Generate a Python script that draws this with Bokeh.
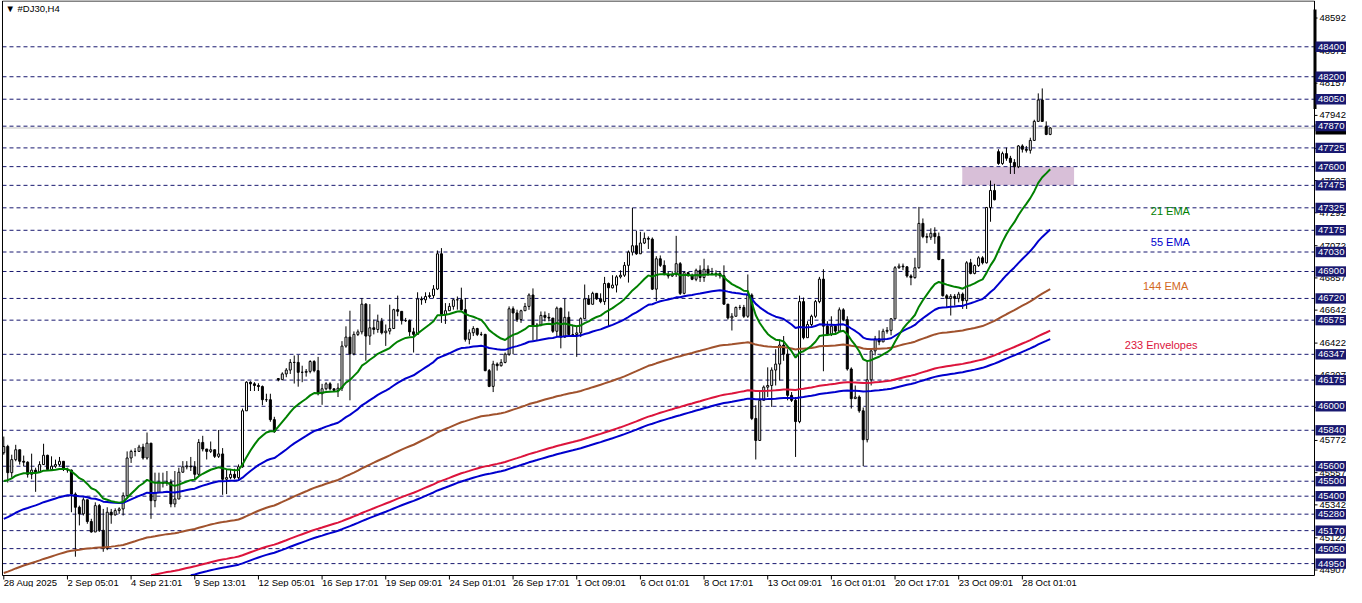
from bokeh.plotting import figure
from bokeh.models import Range1d
from bokeh.embed import file_html
from bokeh.resources import INLINE
from bokeh.core.properties import value

# ---------------- data ----------------
SYMBOL = "#DJ30,H4"
FIRST_OPEN = 45690
GAP_OPENS = {69: 46185, 250: 47700, 262: 47869}

CLOSES = [
    45732, 45557, 45644, 45710, 45633, 45627, 45546, 45574, 45561, 45611,
    45673, 45578, 45600, 45611, 45633, 45578, 45574, 45414, 45326, 45282,
    45376, 45231, 45161, 45337, 45172, 45051, 45293, 45275, 45304, 45315,
    45403, 45655, 45699, 45699, 45728, 45655, 45754, 45370, 45425, 45491,
    45486, 45495, 45348, 45381, 45560, 45596, 45601, 45596, 45546, 45759,
    45715, 45699, 45710, 45666, 45682, 45513, 45524, 45546, 45524, 45596,
    45970, 46161, 46150, 46139, 46132, 46044, 46044, 45911, 45830, 46178,
    46216, 46242, 46293, 46293, 46227, 46227, 46233, 46299, 46238, 46084,
    46117, 46150, 46117, 46106, 46121, 46402, 46462, 46350, 46480, 46497,
    46682, 46469, 46524, 46513, 46568, 46491, 46502, 46519, 46645, 46634,
    46572, 46572, 46497, 46480, 46717, 46711, 46733, 46739, 46783, 47018,
    46612, 46638, 46667, 46711, 46711, 46645, 46447, 46491, 46519, 46480,
    46480, 46238, 46133, 46282, 46271, 46293, 46348, 46651, 46623, 46579,
    46638, 46667, 46743, 46541, 46541, 46607, 46594, 46589, 46501, 46655,
    46462, 46594, 46479, 46479, 46490, 46585, 46717, 46681, 46754, 46717,
    46699, 46820, 46791, 46809, 46864, 46875, 46941, 47029, 47072, 47018,
    47090, 47121, 47116, 46782, 46985, 46941, 46879, 46870, 46879, 46952,
    46754, 46892, 46875, 46848, 46908, 46860, 46915, 46886, 46886, 46886,
    46871, 46682, 46590, 46601, 46660, 46660, 46601, 46743, 45919, 45772,
    46040, 46128, 46139, 46242, 46282, 46409, 46348, 46073, 46040, 45898,
    46699, 46458, 46546, 46601, 46699, 46849, 46535, 46480, 46535, 46502,
    46644, 46579, 46249, 46051, 46062, 45970, 45777, 46177, 46370, 46450,
    46430, 46501, 46507, 46584, 46925, 46936, 46931, 46870, 46859, 46925,
    47221, 47133, 47129, 47155, 47133, 46980, 46738, 46720, 46734, 46720,
    46749, 46705, 46958, 46887, 46940, 46991, 46958, 47327, 47441, 47379,
    47621, 47687, 47656, 47628, 47599, 47738, 47716, 47709, 47775, 47902,
    48045, 47902, 47815, 47858,
]
HIGHS = [
    45798, 45743, 45677, 45743, 45671, 45671, 45633, 45684, 45590, 45633,
    45750, 45677, 45666, 45644, 45662, 45622, 45590, 45578, 45425, 45337,
    45392, 45337, 45249, 45359, 45348, 45315, 45326, 45315, 45319, 45326,
    45425, 45699, 45710, 45721, 45743, 45750, 45825, 45754, 45557, 45557,
    45557, 45568, 45513, 45568, 45590, 45634, 45634, 45662, 45634, 45781,
    45803, 45710, 45765, 45710, 45842, 45721, 45579, 45579, 45583, 45612,
    45985, 46167, 46167, 46161, 46154, 46139, 46084, 46084, 45930, 46189,
    46227, 46255, 46315, 46339, 46343, 46271, 46249, 46308, 46308, 46330,
    46150, 46161, 46161, 46117, 46154, 46435, 46534, 46638, 46500, 46513,
    46722, 46689, 46682, 46579, 46612, 46590, 46546, 46678, 46651, 46739,
    46629, 46590, 46579, 46524, 46761, 46733, 46761, 46761, 46809, 47040,
    47056, 46689, 46689, 46717, 46733, 46792, 46722, 46513, 46535, 46524,
    46497, 46484, 46249, 46304, 46293, 46315, 46359, 46667, 46667, 46645,
    46645, 46690, 46754, 46787, 46556, 46633, 46633, 46622, 46589, 46666,
    46659, 46717, 46633, 46545, 46534, 46594, 46813, 46743, 46765, 46747,
    46754, 46864, 46826, 46875, 46875, 46908, 46963, 47040, 47325, 47171,
    47165, 47160, 47134, 47127, 47002, 47007, 46974, 46897, 46901, 47138,
    46963, 46901, 46897, 46886, 46919, 46941, 46985, 46941, 46924, 46908,
    46902, 46941, 46682, 46622, 46666, 46677, 46677, 46880, 46754, 46007,
    46106, 46139, 46260, 46260, 46381, 46447, 46469, 46381, 46095, 46062,
    46739, 46726, 46568, 46612, 46710, 46864, 46915, 46568, 46601, 46535,
    46660, 46655, 46601, 46260, 46139, 46073, 45992, 46304, 46381, 46470,
    46507, 46518, 46529, 46589, 46936, 46953, 46953, 46936, 46881, 46991,
    47331, 47254, 47155, 47188, 47195, 47160, 46984, 46749, 46749, 46749,
    46764, 46760, 46969, 46984, 46947, 47002, 47002, 47331, 47507, 47485,
    47716, 47700, 47727, 47672, 47650, 47744, 47749, 47738, 47793, 47913,
    48089, 48122, 47902, 47863,
]
LOWS = [
    45677, 45491, 45524, 45633, 45611, 45600, 45524, 45513, 45429, 45557,
    45611, 45568, 45578, 45589, 45600, 45568, 45557, 45293, 44996, 45205,
    45271, 45216, 45157, 45205, 45161, 45029, 45040, 45216, 45271, 45282,
    45271, 45392, 45622, 45666, 45699, 45644, 45644, 45249, 45326, 45469,
    45458, 45469, 45326, 45326, 45513, 45557, 45579, 45568, 45513, 45535,
    45699, 45645, 45688, 45655, 45655, 45409, 45414, 45513, 45513, 45513,
    45590, 45970, 46102, 46102, 46102, 46007, 46029, 45897, 45823, 46167,
    46194, 46194, 46216, 46152, 46131, 46161, 46198, 46220, 46227, 46073,
    46010, 46106, 46106, 46095, 46062, 46102, 46391, 46040, 46340, 46469,
    46480, 46304, 46410, 46480, 46491, 46480, 46403, 46480, 46519, 46601,
    46546, 46563, 46469, 46359, 46480, 46678, 46689, 46722, 46722, 46776,
    46557, 46550, 46645, 46645, 46645, 46638, 46432, 46414, 46469, 46469,
    46469, 46234, 46128, 46095, 46238, 46265, 46287, 46337, 46348, 46563,
    46557, 46640, 46644, 46440, 46440, 46534, 46567, 46567, 46490, 46468,
    46387, 46457, 46468, 46468, 46330, 46462, 46585, 46677, 46688, 46710,
    46688, 46677, 46534, 46787, 46760, 46853, 46864, 46826, 47007, 47011,
    47055, 47083, 47050, 46776, 46703, 46930, 46875, 46853, 46864, 46864,
    46743, 46747, 46864, 46842, 46835, 46830, 46831, 46871, 46875, 46864,
    46853, 46677, 46579, 46506, 46612, 46644, 46590, 46590, 45908, 45645,
    45957, 46095, 46062, 45996, 46139, 46172, 46304, 46040, 46029, 45662,
    45887, 46447, 46458, 46535, 46590, 46688, 46234, 46469, 46469, 46480,
    46497, 46568, 46238, 45985, 46051, 45957, 45601, 45759, 46139, 46340,
    46408, 46430, 46485, 46474, 46580, 46918, 46909, 46859, 46808, 46852,
    46918, 47122, 47089, 47111, 47085, 46975, 46733, 46661, 46606, 46672,
    46694, 46650, 46650, 46881, 46881, 46931, 46947, 46953, 47232, 47375,
    47612, 47612, 47639, 47551, 47551, 47590, 47694, 47694, 47687, 47771,
    47898, 47898, 47810, 47810,
]

# indicator values at the first visible bar
EMA21_START = 45502
EMA55_START = 45249
EMA144_START = 44887
ENV233_START = 44605
ENV_DEVIATION = 0.0006

# horizontal levels drawn on the chart (dashed lines + highlighted price labels)
LEVELS = [48400, 48200, 48050, 47870, 47725, 47600, 47475, 47325, 47175, 47030,
          46900, 46720, 46575, 46347, 46175, 46000, 45840, 45600, 45500, 45400,
          45280, 45170, 45050, 44950]
BID = 47858

# price scale ticks
Y_TICKS = [48592, 48372, 48157, 47942, 47722, 47507, 47292, 47072, 46857, 46642,
           46422, 46207, 45992, 45772, 45557, 45342, 45122, 44907]

# time scale ticks
X_TICK_BARS = [0, 16, 32, 48, 64, 80, 96, 112, 128, 144, 160, 176, 192, 208, 224, 240, 256]
X_TICK_LABELS = ["28 Aug 2025", "2 Sep 05:01", "4 Sep 21:01", "9 Sep 13:01", "12 Sep 05:01",
                 "16 Sep 17:01", "19 Sep 09:01", "24 Sep 01:01", "26 Sep 17:01", "1 Oct 09:01",
                 "6 Oct 01:01", "8 Oct 17:01", "13 Oct 09:01", "16 Oct 01:01", "20 Oct 17:01",
                 "23 Oct 09:01", "28 Oct 01:01"]

# support zone (rectangle)
ZONE_BARS = (240.9, 269.0)
ZONE_PRICES = (47475, 47600)

# indicator captions
CAPTIONS = ["21 EMA", "55 EMA", "144 EMA", "233 Envelopes"]
CAPTION_BARS = [293.2, 293.2, 292.0, 290.9]
CAPTION_PRICES = [47307, 47096, 46806, 46410]
CAPTION_COLORS = ["#008000", "#0000CD", "#D2691E", "#DC143C"]

# ---------------- layout ----------------
W, H = 1346, 587
FRAME_R_PX, FRAME_B_PX = 1314, 575          # frame right / bottom on the canvas
SX = FRAME_R_PX / 1321.0                    # terminal pixel -> canvas pixel
SY = FRAME_B_PX / 583.0


def bx(px):          # terminal pixel -> bar coordinate
    return (px - 3.3) / 4.0


def py(px):          # terminal pixel -> price
    return 48709.0 - px * 6.584


def cx(c):           # canvas pixel -> bar coordinate
    return bx(c / SX)


def cy(c):           # canvas pixel -> price
    return py(c / SY)


FL, FR = bx(2), bx(1321)
FT, FB = py(0.5), py(583)
FONT = "Liberation Sans"
NAVY = "#191970"
NAN = float("nan")

# ---------------- derived series ----------------
n = len(CLOSES)
assert len(HIGHS) == n and len(LOWS) == n, (len(CLOSES), len(HIGHS), len(LOWS))
bars = list(range(n))
opens = []
for i in range(n):
    if i in GAP_OPENS:
        opens.append(GAP_OPENS[i])
    elif i == 0:
        opens.append(FIRST_OPEN)
    else:
        opens.append(CLOSES[i - 1])
highs = [max(h, o, c) for h, o, c in zip(HIGHS, opens, CLOSES)]
lows = [min(l, o, c) for l, o, c in zip(LOWS, opens, CLOSES)]


def ema(values, period, start):
    a = 2.0 / (period + 1)
    out = [start]
    e = start
    for v in values[1:]:
        e = e + a * (v - e)
        out.append(e)
    return out


def clip(vals):
    return [v if FB <= v <= FT else NAN for v in vals]


ema21 = ema(CLOSES, 21, EMA21_START)
ema55 = ema(CLOSES, 55, EMA55_START)
ema144 = ema(CLOSES, 144, EMA144_START)
env_mid = ema(CLOSES, 233, ENV233_START)
env_up = [v * (1 + ENV_DEVIATION) for v in env_mid]
env_dn = [v * (1 - ENV_DEVIATION) for v in env_mid]

# ---------------- figure ----------------
p = figure(width=W, height=H, output_backend="svg", toolbar_location=None,
           x_range=Range1d(cx(0), cx(W)), y_range=Range1d(cy(H), cy(0)),
           x_axis_location=None, y_axis_location=None, min_border=0)
p.background_fill_color = "white"
p.border_fill_color = "white"
p.outline_line_color = None
p.grid.visible = False

# zone rectangle (background)
p.quad(left=[ZONE_BARS[0]], right=[ZONE_BARS[1]], bottom=[ZONE_PRICES[0]], top=[ZONE_PRICES[1]],
       fill_color="#D8BFD8", line_color=None)

# dashed levels and bid line
p.segment(x0=[FL] * len(LEVELS), y0=LEVELS, x1=[FR] * len(LEVELS), y1=LEVELS,
          line_color=NAVY, line_dash="4 3", line_width=1)
p.segment(x0=[FL], y0=[BID], x1=[FR], y1=[BID], line_color="#C0C0C0", line_width=1)

# candles
p.segment(x0=bars, y0=lows, x1=bars, y1=highs, line_color="black", line_width=1)
tops = [max(o, c) for o, c in zip(opens, CLOSES)]
bots = [min(o, c) for o, c in zip(opens, CLOSES)]
fills = ["white" if c >= o else "black" for o, c in zip(opens, CLOSES)]
p.vbar(x=bars, width=0.5, top=tops, bottom=bots, fill_color=fills, line_color="black", line_width=1)

# indicators
p.line(bars, clip(env_up), line_color="#DC143C", line_width=2)
p.line(bars, clip(env_dn), line_color="#0000CD", line_width=2)
p.line(bars, clip(ema144), line_color="#A0522D", line_width=2)
p.line(bars, clip(ema55), line_color="#0000CD", line_width=2)
p.line(bars, clip(ema21), line_color="#008000", line_width=2)

# captions
p.text(x=CAPTION_BARS, y=CAPTION_PRICES, text=CAPTIONS, text_color=CAPTION_COLORS,
       text_font=value(FONT), text_font_size="11px", text_align="center",
       text_baseline="middle")

# title
p.text(x=[bx(5)], y=[py(8)], text=["\u25BC " + SYMBOL], text_color="black",
       text_font=value(FONT), text_font_size="9.5px", text_baseline="middle")

# chart frame
p.segment(x0=[FL, FL, FL, FR], y0=[FT, FB, FB, FB], x1=[FR, FR, FL, FR], y1=[FT, FB, FT, FT],
          line_color="black", line_width=1)

# time scale
p.segment(x0=X_TICK_BARS, y0=[FB] * len(X_TICK_BARS), x1=X_TICK_BARS,
          y1=[cy(FRAME_B_PX + 4)] * len(X_TICK_BARS), line_color="black", line_width=1)
p.text(x=X_TICK_BARS, y=[cy(FRAME_B_PX + 7)] * len(X_TICK_BARS), text=X_TICK_LABELS,
       text_color="black", text_font=value(FONT), text_font_size="9.5px",
       text_align="left", text_baseline="middle")

# price scale
p.segment(x0=[FR] * len(Y_TICKS), y0=Y_TICKS, x1=[cx(FRAME_R_PX + 3)] * len(Y_TICKS), y1=Y_TICKS,
          line_color="black", line_width=1)
p.text(x=[cx(FRAME_R_PX + 5)] * len(Y_TICKS), y=Y_TICKS, text=[str(t) for t in Y_TICKS],
       text_color="black", text_font=value(FONT), text_font_size="9.5px",
       text_align="left", text_baseline="middle")

# black marker on the price scale edge
p.segment(x0=[cx(FRAME_R_PX + 0.5)], y0=[py(110)], x1=[cx(FRAME_R_PX + 0.5)], y1=[py(9)],
          line_color="black", line_width=3)

# bid box (mostly hidden) and highlighted level labels
BOX_L, BOX_R = cx(FRAME_R_PX + 1), cx(FRAME_R_PX + 32)
BOX_X = (BOX_L + BOX_R) / 2
BOX_W = BOX_R - BOX_L
BOX_H = 10.5 * 6.584
p.rect(x=[BOX_X], y=[BID - 9], width=BOX_W, height=BOX_H, fill_color="black", line_color=None)
p.rect(x=[BOX_X] * len(LEVELS), y=LEVELS, width=BOX_W, height=BOX_H,
       fill_color=NAVY, line_color=None)
p.text(x=[cx(FRAME_R_PX + 3.5)] * len(LEVELS), y=LEVELS, text=[str(v) for v in LEVELS],
       text_color="white", text_font=value(FONT), text_font_size="9.5px",
       text_align="left", text_baseline="middle")

open("out.html", "w").write(file_html(p, INLINE))
